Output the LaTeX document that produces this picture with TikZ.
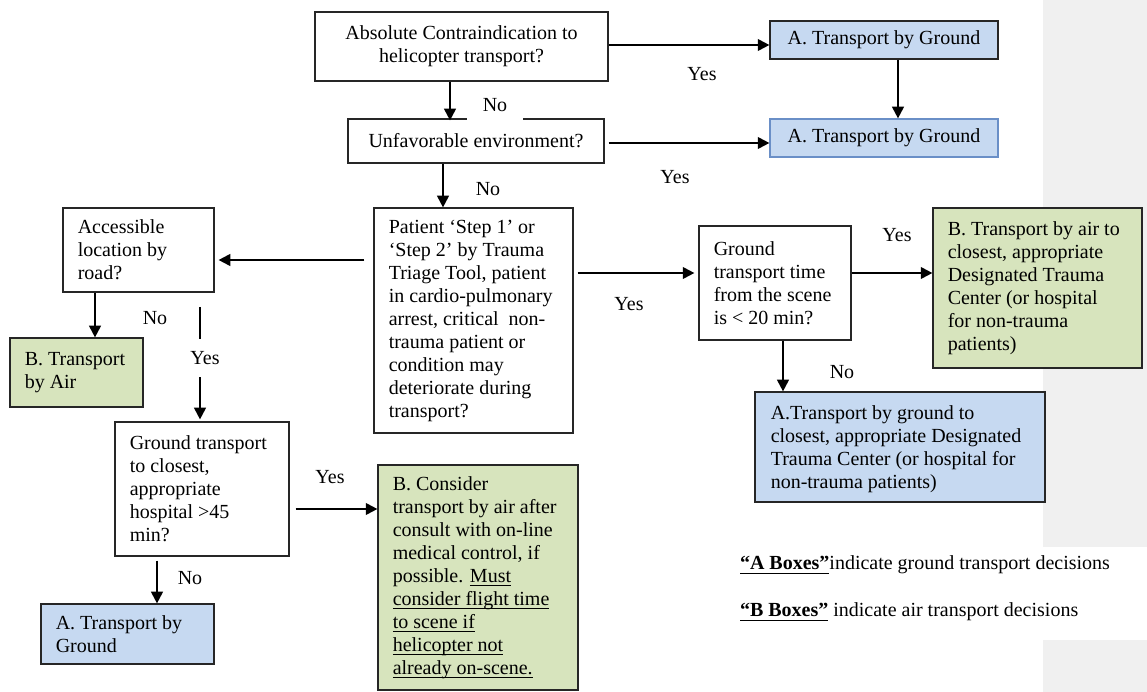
\documentclass[tikz,border=0pt]{standalone}
\usepackage{fontspec}
\setmainfont{Liberation Serif}
\usetikzlibrary{arrows.meta}
\newcommand{\myul}[1]{\setbox0\hbox{#1}\rlap{\rule[-2.3pt]{\wd0}{0.6pt}}\box0}
\definecolor{boxblue}{HTML}{C6D9F1}
\definecolor{boxgreen}{HTML}{D7E4BD}
\definecolor{bordblue}{HTML}{6A8FC7}
\definecolor{panelgray}{HTML}{F0F0F0}
\definecolor{bord}{HTML}{262626}
\tikzset{
  fnt/.style={font=\fontsize{12}{13.8}\selectfont},
  base/.style={draw=bord, line width=0.7pt, inner sep=0pt, fnt},
  qbox/.style={base, fill=white},
  abox/.style={base, fill=boxblue},
  bbox/.style={base, fill=boxgreen},
  sz/.style 2 args={minimum width=#1*0.6pt, minimum height=#2*0.6pt},
  txt/.style={fnt, align=left, inner sep=0pt, anchor=west},
  lbl/.style={fnt, inner sep=1pt},
  arr/.style={line width=1.2pt, draw=black, -{Triangle[length=7pt,width=7pt]}},
}
\begin{document}
\begin{tikzpicture}[x=0.6pt,y=-0.6pt]
\useasboundingbox (0,0) rectangle (1147,692);
% right gray panel
\fill[panelgray] (1043,0) rectangle (1147,692);
\fill[white] (1043,547) rectangle (1147,640);

% boxes
\node[qbox, sz={293}{69}, align=center] (q1) at (461.5,46.5) {Absolute Contraindication to\\helicopter transport?};
\node[abox, sz={228}{38}] (gA1) at (884,40) {A. Transport by Ground};
\node[qbox, sz={256}{44}] (q2) at (476,141) {Unfavorable environment?};
\node[abox, draw=bordblue, sz={228}{38}] (gA2) at (884,138) {A. Transport by Ground};

\node[qbox, sz={199}{225}] (q3) at (473.5,320.5) {};
\node[txt] at ([xshift=9pt]q3.west) {Patient ‘Step 1’ or\\‘Step 2’ by Trauma\\Triage Tool, patient\\in cardio-pulmonary\\arrest, critical\ \ non-\\trauma patient or\\condition may\\deteriorate during\\transport?};

\node[qbox, sz={151}{84}] (acc) at (138.5,250) {};
\node[txt] at ([xshift=9pt]acc.west) {Accessible\\location by\\road?};

\node[bbox, sz={133}{69}] (air1) at (76.5,372.5) {};
\node[txt] at ([xshift=9pt]air1.west) {B. Transport\\by Air};

\node[qbox, sz={174}{134}] (q4) at (202,489) {};
\node[txt] at ([xshift=9pt]q4.west) {Ground transport\\to closest,\\appropriate\\hospital >45\\min?};

\node[abox, sz={173}{60}] (gA3) at (127.5,634) {};
\node[txt] at ([xshift=9pt]gA3.west) {A. Transport by\\Ground};

\node[bbox, sz={200}{225}] (bCons) at (478,577.5) {};
\node[txt] at ([xshift=9pt]bCons.west) {B. Consider\\transport by air after\\consult with on-line\\medical control, if\\possible. \myul{Must}\\\myul{consider flight time}\\\myul{to scene if}\\\myul{helicopter not}\\\myul{already on-scene.}};

\node[qbox, sz={152}{114}] (q5) at (775,283) {};
\node[txt] at ([xshift=9pt]q5.west) {Ground\\transport time\\from the scene\\is < 20 min?};

\node[bbox, sz={209}{160}] (bAir) at (1037.5,288) {};
\node[txt] at ([xshift=9pt]bAir.west) {B. Transport by air to\\closest, appropriate\\Designated Trauma\\Center (or hospital\\for non-trauma\\patients)};

\node[abox, sz={290}{110}] (gA4) at (900,447) {};
\node[txt] at ([xshift=9.6pt, yshift=-1.5pt]gA4.west) {A.Transport by ground to\\closest, appropriate Designated\\Trauma Center (or hospital for\\non-trauma patients)};

% connectors
\draw[arr] (q1.east |- 0,45) -- (gA1.west |- 0,45);
\draw[arr] (gA1.south -| 898,0) -- (gA2.north -| 898,0);
\draw[arr] (q1.south -| 450,0) -- ([yshift=-1.2pt]q2.north -| 450,0);
\draw[arr, shorten <=2.4pt] (q2.east |- 0,143) -- (gA2.west |- 0,143);
\draw[arr] (q2.south -| 443,0) -- (q3.north -| 443,0);
\draw[arr, shorten <=5.4pt, shorten >=2.4pt] (q3.west |- 0,260) -- (acc.east |- 0,260);
\draw[arr, shorten <=2.4pt, shorten >=2.4pt] (q3.east |- 0,273) -- (q5.west |- 0,273);
\draw[arr] (acc.south -| 95,0) -- (air1.north -| 95,0);
\coordinate (yesTop) at (200,307);
\draw[arr, shorten >=1.2pt] (yesTop) -- (q4.north -| yesTop);
\draw[arr, shorten <=3.6pt] (q4.east |- 0,509) -- (bCons.west |- 0,509);
\draw[arr, shorten <=2.4pt] (q4.south -| 157,0) -- (gA3.north -| 157,0);
\draw[arr] (q5.east |- 0,273) -- (bAir.west |- 0,273);
\draw[arr] (q5.south -| 783,0) -- (gA4.north -| 783,0);

% labels
\node[lbl] (y1) at (702,74) {Yes};
\node[lbl, fill=white, minimum width=33.6pt, minimum height=18pt] (n1) at (495,105) {No};
\node[lbl] (y2) at (675,177) {Yes};
\node[lbl] (n2) at (488,189) {No};
\node[lbl] (y3) at (629,304) {Yes};
\node[lbl] (n3) at (155,318) {No};
\node[lbl, fill=white, minimum height=23pt] (y4) at (205,358) {Yes};
\node[lbl] (y5) at (330,477) {Yes};
\node[lbl] (n5) at (190,578) {No};
\node[lbl] (y6) at (897,235) {Yes};
\node[lbl] (n6) at (842,372) {No};

% legend
\node[lbl, anchor=west] (legA) at (738,565) {\textbf{\myul{“A Boxes”}}indicate ground transport decisions};
\node[lbl, anchor=west] (legB) at (738,612) {\textbf{\myul{“B Boxes”}} indicate air transport decisions};
\end{tikzpicture}
\end{document}
